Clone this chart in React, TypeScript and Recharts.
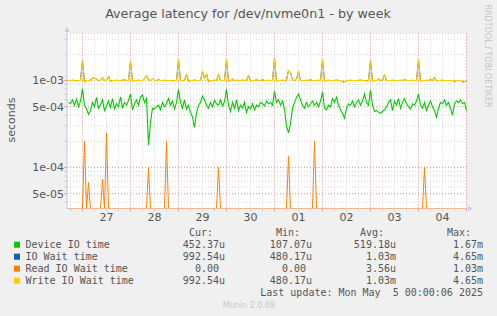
import React from 'react';
import { ComposedChart, Line, XAxis, YAxis, CartesianGrid, ReferenceLine } from 'recharts';

const W = 497;
const H = 316;

// one sample per hour, hour 0 = Sat Apr 26 00:00, first sample at 17:00
const START_HOUR = 17;
const X_DOMAIN: [number, number] = [16.25, 216.25];
const Y_DOMAIN: [number, number] = [3.38e-5, 3.47e-3];

const DAY_LABELS = ['27', '28', '29', '30', '01', '02', '03', '04'];
const Y_TICKS_MAJOR = [5e-5, 1e-4, 5e-4, 1e-3];
const Y_TICK_LABELS = ['5e-05', '1e-04', '5e-04', '1e-03'];
const Y_TICKS_MINOR = [4e-5, 6e-5, 7e-5, 8e-5, 9e-5, 2e-4, 3e-4, 4e-4, 6e-4, 7e-4, 8e-4, 9e-4, 2e-3, 3e-3];

// values in microseconds
const deviceIoTime = [
  560, 540, 600, 520, 610, 500, 580,
  800, 520, 470, 410, 450, 560, 500, 640, 480, 530, 600, 450, 510, 580, 490, 620, 470, 540, 500, 650, 480, 560, 520, 590,
  700, 460, 540, 600, 520, 650, 680, 560, 620, 180, 330, 480, 470, 500, 520, 460, 560, 500, 540, 620, 520, 580, 470, 560,
  790, 560, 480, 600, 470, 520, 430, 380, 290, 420, 520, 560, 660, 600, 520, 480, 560, 500, 590, 540, 520, 600, 510, 570,
  790, 520, 440, 560, 480, 600, 450, 520, 480, 560, 430, 500, 470, 540, 460, 520, 500, 560, 540, 510, 580, 540, 560, 520,
  750, 560, 600, 520, 580, 470, 300, 250, 320, 480, 560, 640, 700, 600, 520, 480, 560, 500, 540, 580, 520, 560, 500, 580,
  740, 480, 460, 520, 500, 620, 560, 640, 520, 460, 420, 370, 480, 540, 520, 580, 500, 560, 600, 520, 580, 700, 560, 520,
  780, 520, 440, 450, 430, 420, 440, 460, 500, 560, 600, 450, 580, 520, 620, 480, 560, 620, 540, 500, 470, 540, 520, 580,
  700, 520, 480, 560, 450, 520, 580, 500, 450, 380, 480, 560, 540, 600, 520, 560, 480, 400, 540, 580, 560, 600, 540, 560,
  452,
];

const writeIoWait = [
  1000, 1000, 1005, 1000, 995, 1000, 1000,
  1700, 960, 1000, 1000, 1010, 1070, 1060, 1040, 1000, 1005, 1090, 1000, 1000, 1110, 980, 1000, 1000, 1005, 1000, 1000, 1010, 1030, 1000, 1000,
  1670, 990, 1000, 1000, 1005, 1000, 1000, 1050, 1140, 1020, 1000, 1060, 1000, 1000, 1030, 1000, 1000, 1005, 1000, 1000, 1000, 995, 1000, 1000,
  1730, 1000, 1000, 1005, 1170, 980, 1000, 1000, 1010, 1000, 1000, 1005, 1280, 1060, 1190, 970, 1000, 1000, 1005, 1000, 1170, 1000, 1000, 1000,
  1730, 990, 1000, 1040, 1000, 1005, 1000, 1000, 1010, 1000, 1000, 1140, 990, 1000, 1000, 1030, 1000, 1000, 1020, 1000, 1000, 1005, 1000, 1000,
  1780, 990, 1000, 1000, 1005, 1000, 1010, 1300, 1230, 1020, 1000, 1040, 1270, 1000, 1000, 1000, 1005, 1000, 1030, 1000, 1000, 1000, 1005, 1000,
  1730, 990, 1000, 1005, 1000, 1000, 1000, 1010, 1000, 1000, 960, 970, 1000, 1000, 1005, 1000, 1000, 1000, 1000, 1010, 1000, 1000, 995, 1000,
  1700, 990, 1000, 1000, 1040, 1000, 1010, 1160, 1000, 1000, 1000, 1005, 1000, 1000, 1000, 1005, 1000, 1030, 1000, 1000, 1000, 1005, 1000, 1000,
  1730, 990, 1000, 1000, 1005, 1000, 1040, 1000, 1090, 990, 1000, 1000, 1005, 1000, 1000, 1000, 1000, 1000, 960, 1000, 1000, 1000, 960, 970,
  993,
];

const readIoWait = [
  0, 0, 0, 0, 0, 0, 0,
  0, 200, 0, 67, 0, 0, 0, 0, 0, 0, 73, 0, 250, 0, 0, 0, 0, 0, 0, 0, 0, 0, 0, 0,
  0, 0, 0, 0, 0, 0, 0, 0, 0, 100, 0, 0, 0, 0, 0, 0, 0, 0, 200, 0, 0, 0, 0, 0,
  0, 0, 0, 0, 0, 0, 0, 0, 0, 0, 0, 0, 0, 0, 0, 0, 0, 0, 0, 0, 100, 0, 0, 0,
  0, 0, 0, 0, 0, 0, 0, 0, 0, 0, 0, 0, 0, 0, 0, 0, 0, 0, 0, 0, 0, 0, 0, 0,
  0, 0, 0, 0, 0, 0, 0, 134, 0, 0, 0, 0, 0, 0, 0, 0, 0, 0, 0, 0, 200, 0, 0, 0,
  0, 0, 0, 0, 0, 0, 0, 0, 0, 0, 0, 0, 0, 0, 0, 0, 0, 0, 0, 0, 0, 0, 0, 0,
  0, 0, 0, 0, 0, 0, 0, 0, 0, 0, 0, 0, 0, 0, 0, 0, 0, 0, 0, 0, 0, 0, 0, 0,
  0, 0, 0, 100, 0, 0, 0, 0, 0, 0, 0, 0, 0, 0, 0, 0, 0, 0, 0, 0, 0, 0, 0, 0,
  0,
];

// same numbers as write IO wait in the legend, hidden under the yellow line
const ioWait = writeIoWait;

const LEGEND = [
  { name: 'Device IO time', color: '#00cc00', cur: '452.37u', min: '107.07u', avg: '519.18u', max: '1.67m' },
  { name: 'IO Wait time', color: '#0066b3', cur: '992.54u', min: '480.17u', avg: '1.03m', max: '4.65m' },
  { name: 'Read IO Wait time', color: '#ff8000', cur: '0.00 ', min: '0.00 ', avg: '3.56u', max: '1.03m' },
  { name: 'Write IO Wait time', color: '#ffcc00', cur: '992.54u', min: '480.17u', avg: '1.03m', max: '4.65m' },
];

const X_TICKS = Array.from({ length: 34 }, (_, i) => 18 + i * 6);
const MIDNIGHTS = X_TICKS.filter((h) => h % 24 === 0);

// rrdtool puts zero on the floor of a log axis
const toSec = (us: number) => (us > 0 ? us / 1e6 : Y_DOMAIN[0]);

const chartData = deviceIoTime.map((d, i) => ({
  h: START_HOUR + i,
  device: toSec(d),
  ioWait: toSec(ioWait[i]),
  read: toSec(readIoWait[i]),
  write: toSec(writeIoWait[i]),
}));

const SANS = 'DejaVu Sans, sans-serif';
const MONO = 'DejaVu Sans Mono, monospace';
const TEXT = '#555555';
const GREY_GRID = '#d2d2d2';
const RED_GRID = '#e8a2a2';
const AXIS = '#c6cbf2';

const YTick = (props: any) => {
  const { x, y, payload } = props;
  const i = Y_TICKS_MAJOR.indexOf(payload.value);
  return (
    <g>
      <line x1={x} x2={x + 3} y1={y} y2={y} stroke={i >= 0 ? RED_GRID : GREY_GRID} />
      {i >= 0 && (
        <text x={x} y={y} dy="0.36em" textAnchor="end" fontFamily={SANS} fontSize={11} fill={TEXT}>
          {Y_TICK_LABELS[i]}
        </text>
      )}
    </g>
  );
};

const XTick = (props: any) => {
  const { x, y, payload } = props;
  const h = payload.value;
  const midnight = h % 24 === 0;
  return (
    <g>
      <line x1={x} x2={x} y1={y} y2={y + 3} stroke={midnight ? RED_GRID : GREY_GRID} />
      {h % 24 === 12 && (
        <text x={x} y={y + 8.5} dy="0.36em" textAnchor="middle" fontFamily={SANS} fontSize={11} fill={TEXT}>
          {DAY_LABELS[(h - 36) / 24]}
        </text>
      )}
    </g>
  );
};

const COLS = [225, 312, 396, 483];

export default function App() {
  return (
    <div style={{ position: 'fixed', left: 0, top: 0, width: W, height: H, background: '#f0f0f0' }}>
      <ComposedChart
        width={W}
        height={H}
        data={chartData}
        margin={{ top: 33.5, right: 30, bottom: 87.5, left: 0 }}
      >
        <CartesianGrid stroke={GREY_GRID} strokeDasharray="1 2" fill="#ffffff" />
        <XAxis
          dataKey="h"
          type="number"
          domain={X_DOMAIN}
          ticks={X_TICKS}
          interval={0}
          height={20}
          tickSize={0}
          tickMargin={0}
          tick={<XTick />}
          axisLine={{ stroke: '#f3b58c' }}
          tickLine={false}
          allowDataOverflow
        />
        <YAxis
          type="number"
          scale="log"
          domain={Y_DOMAIN}
          ticks={[...Y_TICKS_MINOR, ...Y_TICKS_MAJOR].sort((a, b) => a - b)}
          interval={0}
          width={67}
          tickSize={0}
          tickMargin={3}
          tick={<YTick />}
          axisLine={{ stroke: AXIS }}
          tickLine={false}
          allowDataOverflow
        />
        {Y_TICKS_MAJOR.map((v) => (
          <ReferenceLine key={'y' + v} y={v} stroke={RED_GRID} strokeDasharray="1 2" />
        ))}
        {MIDNIGHTS.map((h) => (
          <ReferenceLine key={'x' + h} x={h} stroke={RED_GRID} strokeDasharray="1 2" />
        ))}
        <Line dataKey="device" stroke="#00cc00" strokeWidth={1.1} dot={false} activeDot={false} isAnimationActive={false} />
        <Line dataKey="ioWait" stroke="#0066b3" strokeWidth={1} dot={false} activeDot={false} isAnimationActive={false} />
        <Line dataKey="read" stroke="#ff8000" strokeWidth={1} dot={false} activeDot={false} isAnimationActive={false} />
        <Line dataKey="write" stroke="#ffcc00" strokeWidth={1.1} dot={false} activeDot={false} isAnimationActive={false} />
      </ComposedChart>

      <svg width={W} height={H} style={{ position: 'absolute', left: 0, top: 0, pointerEvents: 'none' }}>
        <text x={248} y={13} dominantBaseline="central" textAnchor="middle" fontFamily={SANS} fontSize={12.7} fill={TEXT}>
          Average latency for /dev/nvme0n1 - by week
        </text>
        <text
          x={11}
          y={120}
          transform="rotate(-90 11 120)"
          dominantBaseline="central"
          textAnchor="middle"
          fontFamily={SANS}
          fontSize={11}
          fill={TEXT}
        >
          seconds
        </text>
        <text
          x={487.5}
          y={56}
          transform="rotate(90 487.5 56)"
          dominantBaseline="central"
          textAnchor="middle"
          fontFamily={SANS}
          fontSize={8}
          fill="#c4c4c4"
        >
          RRDTOOL / TOBI OETIKER
        </text>
        <polygon points="64.5,32 69.5,32 67,27" fill={AXIS} />
        <polygon points="468,206 468,211 473,208.5" fill={AXIS} />

        <g fontFamily={MONO} fontSize={10} fill={TEXT} style={{ whiteSpace: 'pre' }}>
          {['Cur:  ', 'Min:  ', 'Avg:  ', 'Max:  '].map((t, i) => (
            <text key={t} x={COLS[i]} y={232.7} dominantBaseline="central" textAnchor="end" xmlSpace="preserve">
              {t}
            </text>
          ))}
          {LEGEND.map((row, r) => {
            const cy = 244.7 + r * 12;
            return (
              <g key={row.name}>
                <rect x={14} y={cy - 3} width={6} height={6} fill={row.color} />
                <text x={25.5} y={cy} dominantBaseline="central">
                  {row.name}
                </text>
                {[row.cur, row.min, row.avg, row.max].map((v, i) => (
                  <text key={i} x={COLS[i]} y={cy} dominantBaseline="central" textAnchor="end" xmlSpace="preserve">
                    {v}
                  </text>
                ))}
              </g>
            );
          })}
          <text x={483} y={292.7} dominantBaseline="central" textAnchor="end" xmlSpace="preserve">
            {'Last update: Mon May  5 00:00:06 2025'}
          </text>
        </g>
        <text x={249} y={305} dominantBaseline="central" textAnchor="middle" fontFamily={SANS} fontSize={8} fill="#c8c8c8">
          Munin 2.0.69
        </text>
      </svg>
    </div>
  );
}
